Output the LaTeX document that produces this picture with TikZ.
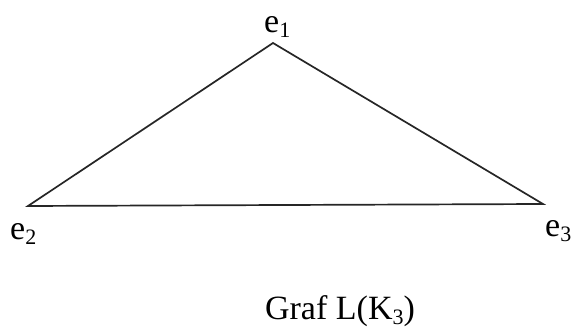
\documentclass[tikz,border=0pt]{standalone}
\usepackage{fontspec}
\setmainfont{Liberation Serif}
\newcommand{\lbsub}[1]{{\fontsize{22}{22}\selectfont\raisebox{-5pt}{#1}}}
\begin{document}
\begin{tikzpicture}[x=1pt,y=1pt,
  edge/.style={line width=1.7pt, line join=miter, black!85},
  lbl/.style={inner sep=0pt, anchor=base west, font=\fontsize{34}{40}\selectfont}]
\useasboundingbox (0,0) rectangle (576,329);
\coordinate (v1) at (273,286);
\coordinate (v2) at (28,123);
\coordinate (v3) at (543,125);
\draw[edge] (v1) -- (v2) -- (v3) -- cycle;
\node[lbl] (l1) at (264,296) {e\lbsub{1}};
\node[lbl] (l2) at (10,89) {e\lbsub{2}};
\node[lbl] (l3) at (545,92) {e\lbsub{3}};
\node[lbl, anchor=base] (cap) at (340,9) {Graf L(K\lbsub{3})};
\end{tikzpicture}
\end{document}
